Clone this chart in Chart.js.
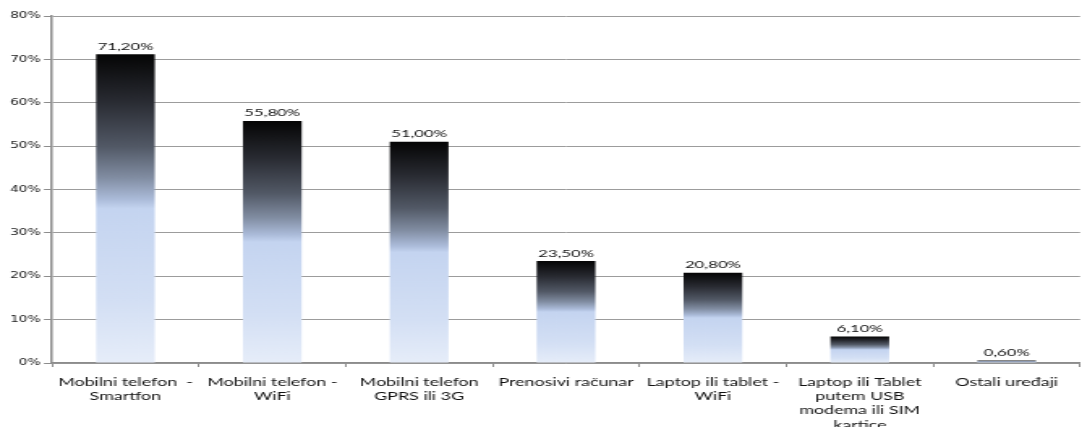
<!DOCTYPE html>
<html>
<head>
<meta charset="utf-8">
<script src="https://cdn.jsdelivr.net/npm/chart.js@4/dist/chart.umd.min.js"></script>
<style>
  html, body { margin: 0; padding: 0; background: #fff; overflow: hidden; }
  #wrap { width: 668px; height: 427px; transform: scaleX(1.6198); transform-origin: 0 0; position: relative; }
</style>
</head>
<body>
<div id="wrap"><canvas id="c"></canvas></div>
<script>
const categories = [
  ["Mobilni telefon  -", "Smartfon"],
  ["Mobilni telefon -", "WiFi"],
  ["Mobilni telefon", "GPRS ili 3G"],
  "Prenosivi računar",
  ["Laptop ili tablet -", "WiFi"],
  ["Laptop ili Tablet", "putem USB", "modema ili SIM", "kartice"],
  "Ostali uređaji"
];
const values = [71.2, 55.8, 51.0, 23.5, 20.8, 6.1, 0.6];
const yTicks = [0, 10, 20, 30, 40, 50, 60, 70, 80];

const fmt = v => v.toFixed(2).replace('.', ',') + '%';

function barGradient(ctx) {
  const chart = ctx.chart;
  const area = chart.chartArea;
  if (!area || ctx.type !== 'data') return '#c6d5f0';
  const y = chart.scales.y;
  const top = y.getPixelForValue(ctx.raw);
  const bottom = y.getPixelForValue(0);
  if (!isFinite(top) || bottom - top < 0.5) return '#4a5468';
  const g = chart.ctx.createLinearGradient(0, top, 0, bottom);
  g.addColorStop(0, '#050505');
  g.addColorStop(0.15, '#282a31');
  g.addColorStop(0.3, '#525966');
  g.addColorStop(0.4, '#818da2');
  g.addColorStop(0.47, '#abbbd9');
  g.addColorStop(0.5, '#c4d4f0');
  g.addColorStop(0.8, '#d3dff4');
  g.addColorStop(1, '#e6edf9');
  return g;
}

const valueLabels = {
  id: 'valueLabels',
  afterDatasetsDraw(chart) {
    const ctx = chart.ctx;
    const meta = chart.getDatasetMeta(0);
    ctx.save();
    ctx.font = '10.3px Lato';
    ctx.fillStyle = '#111';
    ctx.textAlign = 'center';
    ctx.textBaseline = 'alphabetic';
    meta.data.forEach((bar, i) => {
      ctx.fillText(fmt(values[i]), bar.x, bar.y - 4.5);
    });
    ctx.restore();
  }
};

new Chart(document.getElementById('c'), {
  type: 'bar',
  data: {
    labels: categories,
    datasets: [{
      data: values,
      backgroundColor: barGradient,
      borderWidth: 0,
      categoryPercentage: 1,
      barPercentage: 0.4
    }]
  },
  options: {
    responsive: true,
    maintainAspectRatio: false,
    animation: false,
    layout: { padding: { top: 16, right: 1.2, left: 0, bottom: 0 } },
    plugins: { legend: { display: false }, tooltip: { enabled: false } },
    scales: {
      y: {
        min: 0, max: 80,
        afterBuildTicks(scale) { scale.ticks = yTicks.map(v => ({ value: v })); },
        afterFit(scale) { scale.width = 32.1; },
        ticks: {
          callback: v => v + '%',
          font: { family: 'DejaVu Sans', size: 8.5 },
          color: '#222',
          padding: 2
        },
        grid: { color: '#9c9c9c', lineWidth: 1, tickLength: 5, tickColor: '#8c8c8c' },
        border: { color: '#8c8c8c', width: 1.5 }
      },
      x: {
        afterFit(scale) { scale.height = 64; },
        ticks: {
          font: { family: 'Lato', size: 11, lineHeight: 1.3 },
          color: '#111',
          maxRotation: 0,
          autoSkip: false,
          padding: 8
        },
        grid: { display: true, drawOnChartArea: false, tickLength: 4, tickColor: '#8c8c8c', offset: true },
        border: { color: '#8c8c8c', width: 1.5 }
      }
    }
  },
  plugins: [valueLabels]
});
</script>
</body>
</html>
